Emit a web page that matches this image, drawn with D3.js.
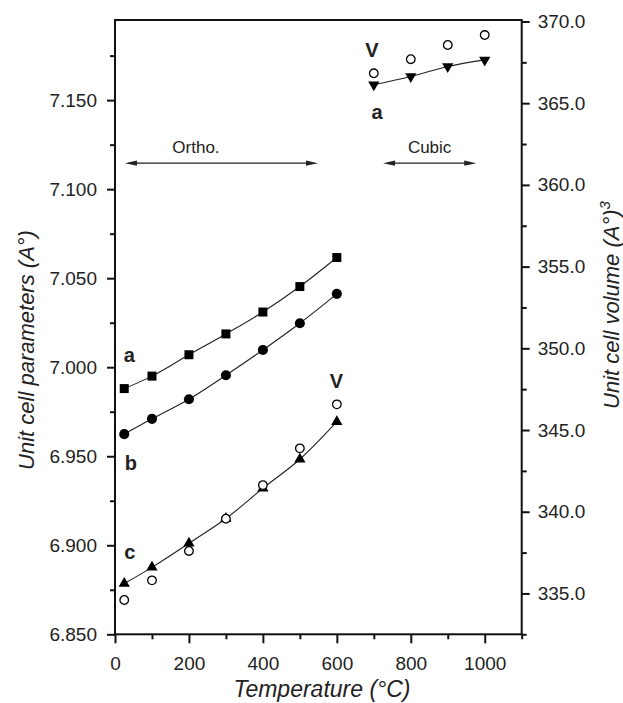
<!DOCTYPE html>
<html>
<head>
<meta charset="utf-8">
<script src="https://cdn.jsdelivr.net/npm/d3@7"></script>
<style>
  html, body { margin: 0; padding: 0; background: #fff; }
  svg { display: block; }
  text { font-family: "Liberation Sans", Arial, Helvetica, sans-serif; fill: #222; }
</style>
</head>
<body>
<svg id="chart" width="623" height="703"></svg>
<script>
// ---- data ----
const tempsOrtho = [25, 100, 200, 300, 400, 500, 600];
const paramA = [6.988, 6.995, 7.007, 7.0187, 7.031, 7.0453, 7.0616];
const paramB = [6.9624, 6.971, 6.982, 6.9955, 7.0097, 7.0247, 7.0412];
const paramC = [6.8785, 6.8876, 6.9011, 6.915, 6.932, 6.9483, 6.9694];
const volumeOrtho = [334.6, 335.8, 337.6, 339.57, 341.63, 343.88, 346.57];

const tempsCubic = [700, 800, 900, 1000];
const paramCubicA = [7.1586, 7.1633, 7.1689, 7.1726];
const volumeCubic = [366.83, 367.69, 368.56, 369.17];

const xTicks = [0, 200, 400, 600, 800, 1000];
const xMinorTicks = [100, 300, 500, 700, 900, 1100];
const leftTicks = [6.85, 6.9, 6.95, 7.0, 7.05, 7.1, 7.15];
const leftMinorTicks = [6.875, 6.925, 6.975, 7.025, 7.075, 7.125, 7.175];
const rightTicks = [335, 340, 345, 350, 355, 360, 365, 370];
const rightMinorTicks = [332.5, 337.5, 342.5, 347.5, 352.5, 357.5, 362.5, 367.5];

const phaseNames = ["Ortho.", "Cubic"];
const phaseFrom = [27, 725];
const phaseTo = [549, 977];
const phaseLabelX = [219, 851];
const phaseArrowY = 7.1146;
const phaseLabelY = 7.1205;

// series labels: text, x (°C), value, axis
const labelText = ["a", "b", "c", "V", "V", "a"];
const labelX = [39, 43, 40, 599, 695, 709];
const labelVal = [7.007, 6.9464, 6.8964, 347.98, 368.26, 7.1436];
const labelAxis = ["L", "L", "L", "R", "R", "L"];

// ---- layout ----
const svg = d3.select("#chart");
const x = d3.scaleLinear().domain([0, 1100]).range([115, 521.7]);
const yL = d3.scaleLinear().domain([6.85, 7.195]).range([634.3, 20]);
const yR = d3.scaleLinear().domain([332.5, 370.09]).range([634.3, 20]);
const ink = "#111";

// frame
svg.append("rect").attr("x", x(0)).attr("y", 20)
  .attr("width", x(1100) - x(0)).attr("height", 634.3 - 20)
  .attr("fill", "none").attr("stroke", ink).attr("stroke-width", 2);

function styleAxis(g) {
  g.select(".domain").remove();
  g.selectAll(".tick line").attr("stroke", ink).attr("stroke-width", 2);
  g.selectAll(".tick text").attr("font-size", 19).attr("fill", "#222")
    .style("font-family", '"Liberation Sans", Arial, sans-serif');
}

// bottom axis
svg.append("g").attr("transform", `translate(0,634.3)`)
  .call(d3.axisBottom(x).tickValues(xTicks).tickSize(9).tickPadding(13).tickFormat(d3.format("d")))
  .call(styleAxis);
svg.append("g").attr("transform", `translate(0,634.3)`)
  .call(d3.axisBottom(x).tickValues(xMinorTicks).tickSize(5).tickFormat(""))
  .call(styleAxis);

// left axis
svg.append("g").attr("transform", `translate(${x(0)},0)`)
  .call(d3.axisLeft(yL).tickValues(leftTicks).tickSize(8).tickPadding(10).tickFormat(d3.format(".3f")))
  .call(styleAxis);
svg.append("g").attr("transform", `translate(${x(0)},0)`)
  .call(d3.axisLeft(yL).tickValues(leftMinorTicks).tickSize(5).tickFormat(""))
  .call(styleAxis);

// right axis
svg.append("g").attr("transform", `translate(${x(1100)},0)`)
  .call(d3.axisRight(yR).tickValues(rightTicks).tickSize(8).tickPadding(8).tickFormat(d3.format(".1f")))
  .call(styleAxis);
svg.append("g").attr("transform", `translate(${x(1100)},0)`)
  .call(d3.axisRight(yR).tickValues(rightMinorTicks).tickSize(5).tickFormat(""))
  .call(styleAxis);

// axis titles
svg.append("text").attr("x", 322).attr("y", 697).attr("text-anchor", "middle")
  .attr("font-size", 23).attr("font-style", "italic").text("Temperature (°C)");
svg.append("text").attr("transform", "translate(34,350) rotate(-90)")
  .attr("text-anchor", "middle").attr("font-size", 22).attr("font-style", "italic")
  .text("Unit cell parameters (A°)");
const rt = svg.append("text").attr("transform", "translate(619,305) rotate(-90)")
  .attr("text-anchor", "middle").attr("font-size", 22).attr("font-style", "italic");
rt.append("tspan").text("Unit cell volume (A°)");
rt.append("tspan").attr("dy", -9).attr("font-size", 15).text("3");

// curves
const line = d3.line().curve(d3.curveCatmullRom.alpha(0.5));
function drawCurve(xs, ys, scale) {
  svg.append("path")
    .attr("d", line(xs.map((t, i) => [x(t), scale(ys[i])])))
    .attr("fill", "none").attr("stroke", "#222").attr("stroke-width", 1.1);
}
drawCurve(tempsOrtho, paramA, yL);
drawCurve(tempsOrtho, paramB, yL);
drawCurve(tempsOrtho, paramC, yL);
drawCurve(tempsCubic, paramCubicA, yL);

// markers
function drawMarkers(xs, ys, scale, type, rot, filled, size) {
  const sym = d3.symbol().type(type).size(size);
  svg.append("g").selectAll("path").data(xs).join("path")
    .attr("transform", (t, i) => `translate(${x(t)},${scale(ys[i])}) rotate(${rot})`)
    .attr("d", sym)
    .attr("fill", filled ? "#000" : "#fff")
    .attr("stroke", "#000").attr("stroke-width", filled ? 0 : 1.3);
}
drawMarkers(tempsOrtho, paramA, yL, d3.symbolSquare, 0, true, 81);
drawMarkers(tempsOrtho, paramB, yL, d3.symbolCircle, 0, true, 80);
drawMarkers(tempsOrtho, paramC, yL, d3.symbolTriangle, 0, true, 55);
drawMarkers(tempsOrtho, volumeOrtho, yR, d3.symbolCircle, 0, false, 58);
drawMarkers(tempsCubic, paramCubicA, yL, d3.symbolTriangle, 180, true, 55);
drawMarkers(tempsCubic, volumeCubic, yR, d3.symbolCircle, 0, false, 58);

// phase arrows
phaseNames.forEach((name, i) => {
  const x1 = x(phaseFrom[i]), x2 = x(phaseTo[i]), yy = yL(phaseArrowY);
  svg.append("line").attr("x1", x1 + 6).attr("x2", x2 - 6).attr("y1", yy).attr("y2", yy)
    .attr("stroke", "#222").attr("stroke-width", 1.3);
  svg.append("path").attr("d", `M${x1},${yy}L${x1 + 12},${yy - 2.6}L${x1 + 12},${yy + 2.6}Z`).attr("fill", "#222");
  svg.append("path").attr("d", `M${x2},${yy}L${x2 - 12},${yy - 2.6}L${x2 - 12},${yy + 2.6}Z`).attr("fill", "#222");
  svg.append("text").attr("x", x(phaseLabelX[i])).attr("y", yL(phaseLabelY))
    .attr("text-anchor", "middle").attr("font-size", 17).text(name);
});

// series labels
labelText.forEach((t, i) => {
  const s = labelAxis[i] === "L" ? yL : yR;
  svg.append("text").attr("x", x(labelX[i])).attr("y", s(labelVal[i]))
    .attr("text-anchor", "middle").attr("dominant-baseline", "central")
    .attr("font-size", 20).attr("font-weight", "bold").text(t);
});
</script>
</body>
</html>
